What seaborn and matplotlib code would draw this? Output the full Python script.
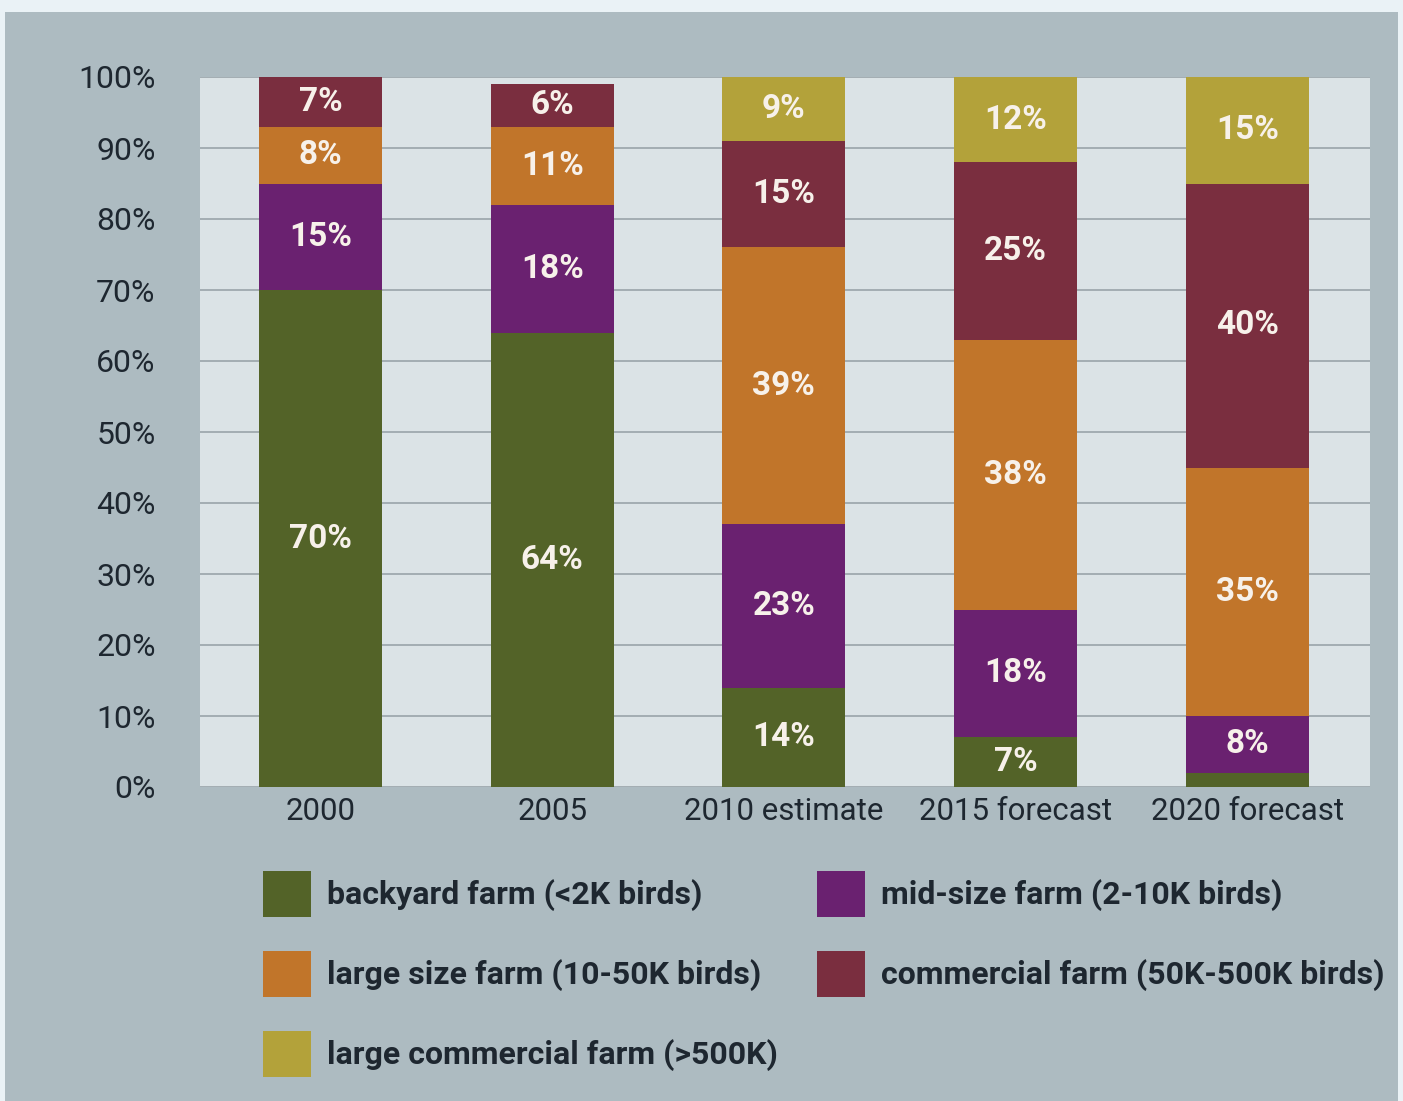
import matplotlib
matplotlib.use("Agg")
import matplotlib.pyplot as plt
from matplotlib.patches import Rectangle, Patch
import numpy as np
import pandas as pd
import seaborn as sns

# Share of poultry farms by size class (percent)
years = ["2000", "2005", "2010 estimate", "2015 forecast", "2020 forecast"]
series_names = [
    "backyard farm (<2K birds)",
    "mid-size farm (2-10K birds)",
    "large size farm (10-50K birds)",
    "commercial farm (50K-500K birds)",
    "large commercial farm (>500K)",
]
backyard = [70, 64, 14, 7, 2]
midsize = [15, 18, 23, 18, 8]
large_size = [8, 11, 39, 38, 35]
commercial = [7, 6, 15, 25, 40]
large_commercial = [0, 0, 9, 12, 15]
# segments that carry a printed value (the 2% backyard share in 2020 is unlabelled)
show_label = [
    [True, True, True, True, False],
    [True, True, True, True, True],
    [True, True, True, True, True],
    [True, True, True, True, True],
    [False, False, True, True, True],
]
ytick_vals = list(range(0, 101, 10))

colors = ["#536328", "#6a2170", "#c1752a", "#7a2e3f", "#b3a23a"]
series = [backyard, midsize, large_size, commercial, large_commercial]

sns.set_theme(style="white")
plt.rcParams["font.family"] = ["Roboto", "DejaVu Sans"]

fig = plt.figure(figsize=(14.03, 11.01), dpi=100)
fig.patch.set_facecolor("#eaf2f6")
fig.patches.append(Rectangle((5 / 1403, 0), 1393 / 1403, 1 - 12 / 1101,
                             transform=fig.transFigure, facecolor="#adbbc1",
                             edgecolor="none", zorder=-5))

ax = fig.add_axes([200 / 1403, 1 - 787 / 1101, 1170 / 1403, 710 / 1101])
ax.set_facecolor("#dbe3e6")

cum = np.zeros(len(years))
cums = []
for s in series:
    cum = cum + np.array(s, dtype=float)
    cums.append(cum.copy())

# stacked bars: draw cumulative totals from the top layer down
for i in range(len(series) - 1, -1, -1):
    d = pd.DataFrame({"year": years, "total": cums[i]})
    sns.barplot(data=d, x="year", y="total", order=years, color=colors[i],
                saturation=1, width=0.53, ax=ax, zorder=3, linewidth=0)

# value labels centred in each segment
for i, s in enumerate(series):
    for j, v in enumerate(s):
        if v > 0 and show_label[i][j]:
            mid = cums[i][j] - v / 2
            ax.text(j, mid, f"{v}%", ha="center", va="center", color="#f7f1ea",
                    fontsize=24, fontweight="bold", zorder=5)

ax.set_ylim(0, 100)
ax.set_xlim(-0.52, 4.53)
ax.set_yticks(ytick_vals)
ax.set_yticklabels([f"{v}%" for v in ytick_vals])
ax.yaxis.grid(True, color="#9aa4a9", linewidth=1.2, zorder=1)
ax.set_axisbelow(True)
for sp in ax.spines.values():
    sp.set_visible(False)
ax.set_xlabel("")
ax.set_ylabel("")
ax.tick_params(axis="y", labelsize=23, labelcolor="#1e2730", length=0, pad=32)
ax.tick_params(axis="x", labelsize=22.5, labelcolor="#1e2730", length=0, pad=7)

# two-column legend below the plot
handles = [Patch(facecolor=c, edgecolor="none") for c in colors]
leg_kw = dict(frameon=False, handlelength=1.5, handleheight=1.83,
              labelspacing=1.07, handletextpad=0.5, borderpad=0, borderaxespad=0,
              loc="upper left", prop={"family": ["Roboto", "DejaVu Sans"],
                                      "weight": "bold", "size": 23})
col1 = [0, 2, 4]
col2 = [1, 3]
leg1 = fig.legend([handles[k] for k in col1], [series_names[k] for k in col1],
                  bbox_to_anchor=(263 / 1403, 1 - 871 / 1101), **leg_kw)
leg2 = fig.legend([handles[k] for k in col2], [series_names[k] for k in col2],
                  bbox_to_anchor=(817 / 1403, 1 - 871 / 1101), **leg_kw)
for leg in (leg1, leg2):
    for t in leg.get_texts():
        t.set_color("#1e2730")

fig.savefig("out.png", dpi=100, facecolor=fig.get_facecolor())
